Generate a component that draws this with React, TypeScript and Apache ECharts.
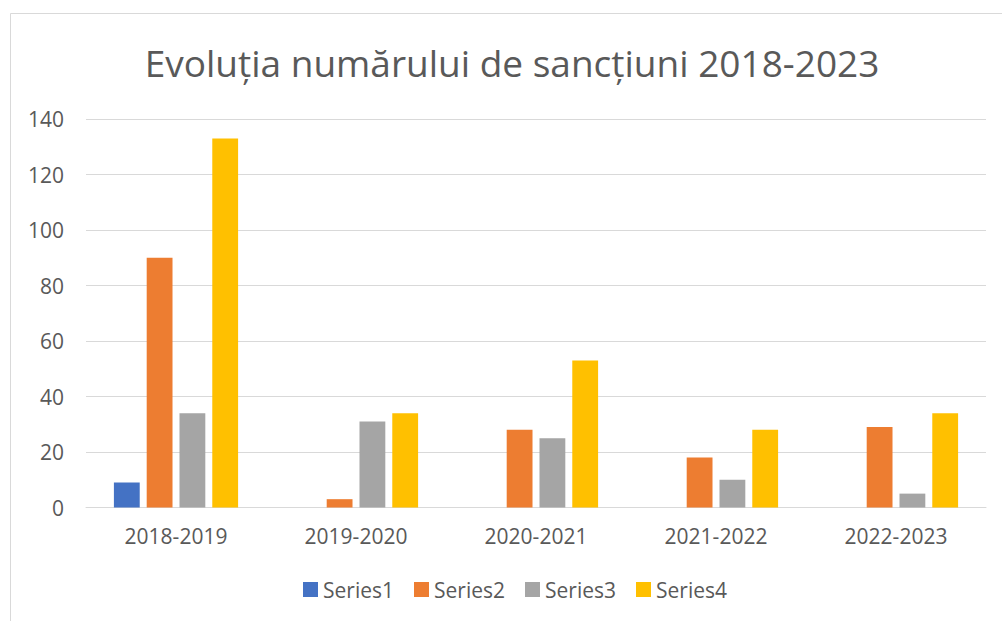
import React, { useEffect, useRef } from "react";
import * as echarts from "echarts";

const categories = ["2018-2019", "2019-2020", "2020-2021", "2021-2022", "2022-2023"];
const series1 = [9, 0, 0, 0, 0];
const series2 = [90, 3, 28, 18, 29];
const series3 = [34, 31, 25, 10, 5];
const series4 = [133, 34, 53, 28, 34];
const seriesNames = ["Series1", "Series2", "Series3", "Series4"];
const seriesColors = ["#4472C4", "#ED7D31", "#A5A5A5", "#FFC000"];
const titleText = "Evoluția numărului de sancțiuni 2018-2023";

const FONT = "'Open Sans', 'Noto Sans', sans-serif";
const TXT = "#595959";

export default function App() {
  const ref = useRef<HTMLDivElement>(null);
  useEffect(() => {
    if (!ref.current) return;
    const chart = echarts.init(ref.current, undefined, { renderer: "svg" });
    const allData = [series1, series2, series3, series4];
    chart.setOption({
      animation: false,
      backgroundColor: "#ffffff",
      textStyle: { fontFamily: FONT },
      graphic: [
        {
          type: "rect",
          shape: { x: 10.5, y: 13.5, width: 1000, height: 620 },
          style: { fill: "none", stroke: "#d9d9d9", lineWidth: 1 },
          silent: true,
        },
        {
          type: "text",
          x: 512,
          y: 62,
          silent: true,
          style: {
            text: titleText,
            fill: TXT,
            fontFamily: FONT,
            fontSize: 37,
            align: "center",
            verticalAlign: "middle",
          },
        },
      ],
      legend: {
        bottom: 16,
        left: 298,
        itemWidth: 15,
        itemHeight: 15,
        itemGap: 20,
        icon: "rect",
        textStyle: { fontFamily: FONT, fontSize: 21, color: TXT },
        data: seriesNames,
      },
      grid: { left: 86, right: 16, top: 119, bottom: 113.5, containLabel: false },
      xAxis: {
        type: "category",
        data: categories,
        axisLine: { show: true, lineStyle: { color: "#d9d9d9", width: 1 } },
        axisTick: { show: false },
        axisLabel: { fontFamily: FONT, fontSize: 21, color: TXT, margin: 18 },
      },
      yAxis: {
        type: "value",
        min: 0,
        max: 140,
        interval: 20,
        axisLine: { show: false },
        axisTick: { show: false },
        splitLine: { lineStyle: { color: "#d9d9d9", width: 1 } },
        axisLabel: { fontFamily: FONT, fontSize: 21, color: TXT, margin: 22 },
      },
      series: seriesNames.map((name, i) => ({
        name,
        type: "bar",
        data: allData[i],
        itemStyle: { color: seriesColors[i] },
        barGap: "27%",
        barCategoryGap: "31%",
      })),
    });
    return () => chart.dispose();
  }, []);
  return (
    <div
      ref={ref}
      style={{ position: "fixed", left: 0, top: 0, width: 1002, height: 621 }}
    />
  );
}
